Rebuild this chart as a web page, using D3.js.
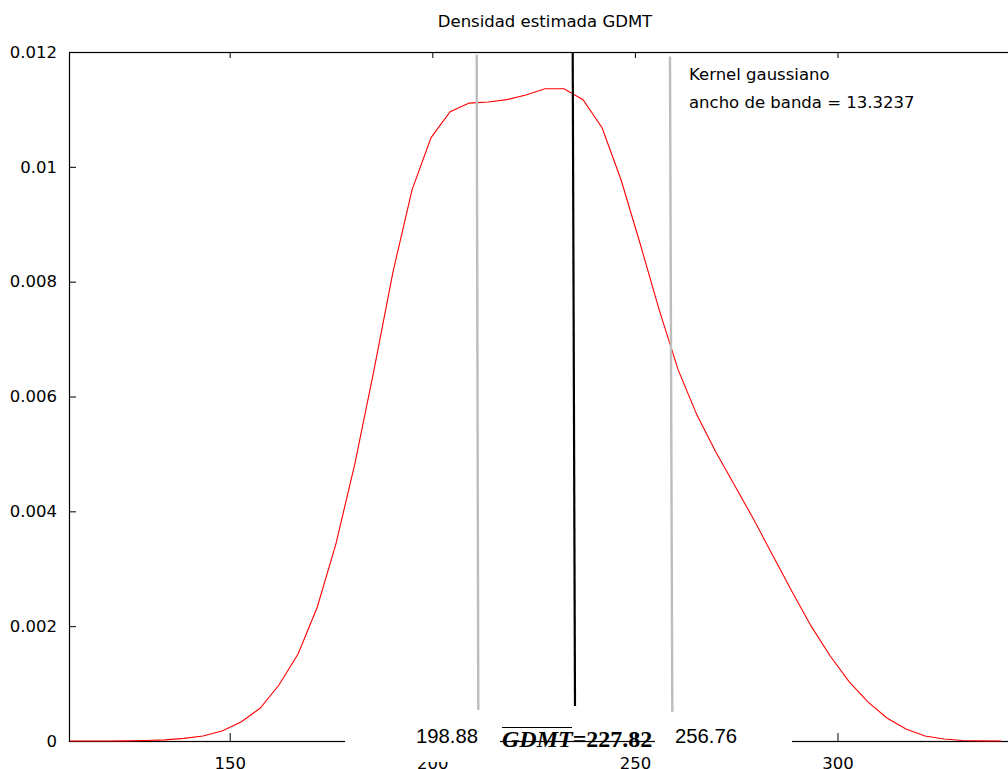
<!DOCTYPE html>
<html>
<head>
<meta charset="utf-8">
<script src="https://cdn.jsdelivr.net/npm/d3@7"></script>
<style>
  body { margin: 0; background: #fff; }
  svg { display: block; }
  text { font-family: "DejaVu Sans", Verdana, sans-serif; fill: #000; }
</style>
</head>
<body>
<script>
// kernel density estimate of GDMT (sampled points)
var gdmt = [110.6, 115.3, 120.0, 124.7, 129.3, 134.0, 138.7, 143.4, 148.1, 152.8,
  157.5, 162.2, 166.9, 171.6, 176.2, 180.9, 185.6, 190.3, 195.0, 199.7,
  204.4, 209.1, 213.8, 218.4, 223.1, 227.8, 232.5, 237.2, 241.9, 246.6,
  251.3, 256.0, 260.7, 265.3, 270.0, 274.7, 279.4, 284.1, 288.8, 293.5,
  298.2, 302.9, 307.5, 312.2, 316.9, 321.6, 326.3, 331.0, 335.7, 340.4];
var density = [0, 0, 0, 0.000003, 0.000009, 0.00002, 0.000045, 0.000087, 0.000174, 0.00033,
  0.00057, 0.00098, 0.00152, 0.00233, 0.00343, 0.00483, 0.00646, 0.00817, 0.0096, 0.01051,
  0.01096, 0.01111, 0.01113, 0.01117, 0.01125, 0.01136, 0.01136, 0.01117, 0.01068, 0.00977,
  0.00866, 0.00751, 0.00646, 0.00568, 0.00503, 0.00444, 0.00385, 0.00322, 0.0026, 0.002,
  0.00148, 0.00103, 0.00068, 0.0004, 0.00021, 0.000087, 0.000035, 0.00001, 0.000003, 0];

var xTicks = [150, 200, 250, 300];
var yTicks = [0, 0.002, 0.004, 0.006, 0.008, 0.01, 0.012];
var yTickLabels = ["0", "0.002", "0.004", "0.006", "0.008", "0.01", "0.012"];

// overlay lines (mean and +/- one sd), drawn by hand on the original picture
var markerNames = ["low", "mean", "high"];
var markerX1 = [210.96, 234.65, 258.66];
var markerX2 = [211.35, 235.22, 259.23];
var markerY1 = [0.01195, 0.012, 0.01192];
var markerY2 = [0.00054, 0.00061, 0.00051];

var title = "Densidad estimada GDMT";
var keyLines = ["Kernel gaussiano", "ancho de banda = 13.3237"];
var lowLabel = "198.88", highLabel = "256.76", meanName = "GDMT", meanValue = "=227.82";

var width = 1008, height = 769;
var margin = { left: 69, top: 52, right: 1021, bottom: 741 };

var svg = d3.select("body").append("svg")
  .attr("width", width)
  .attr("height", height);

var x = d3.scaleLinear().domain([110.34, 345.29]).range([margin.left, margin.right]);
var y = d3.scaleLinear().domain([0, 0.012]).range([margin.bottom, margin.top]);

// title
svg.append("text")
  .attr("x", (margin.left + margin.right) / 2)
  .attr("y", 27)
  .attr("text-anchor", "middle")
  .style("font-size", "16.5px")
  .text(title);

// axes with inward ticks
svg.append("g")
  .attr("transform", "translate(0," + margin.bottom + ")")
  .call(d3.axisBottom(x).tickValues(xTicks).tickSizeInner(-8).tickSizeOuter(0).tickPadding(16))
  .call(function (g) { g.select(".domain").remove(); })
  .call(function (g) { g.selectAll("text").style("font-size", "16.5px").attr("font-family", null); });

svg.append("g")
  .attr("transform", "translate(0," + margin.top + ")")
  .call(d3.axisTop(x).tickValues(xTicks).tickSizeInner(-6).tickSizeOuter(0).tickFormat(""))
  .call(function (g) { g.select(".domain").remove(); });

svg.append("g")
  .attr("transform", "translate(" + margin.left + ",0)")
  .call(d3.axisLeft(y).tickValues(yTicks).tickSizeInner(-7).tickSizeOuter(0).tickPadding(12)
    .tickFormat(function (d, i) { return yTickLabels[i]; }))
  .call(function (g) { g.select(".domain").remove(); })
  .call(function (g) { g.selectAll("text").style("font-size", "16.5px").attr("font-family", null); });

// border
svg.append("rect")
  .attr("x", margin.left + 0.5)
  .attr("y", margin.top + 0.5)
  .attr("width", margin.right - margin.left)
  .attr("height", margin.bottom - margin.top)
  .attr("fill", "none")
  .attr("stroke", "#000")
  .attr("stroke-width", 1.2);

// density curve
var line = d3.line()
  .x(function (d, i) { return x(gdmt[i]); })
  .y(function (d) { return y(d); });

svg.append("path")
  .datum(density)
  .attr("d", line)
  .attr("fill", "none")
  .attr("stroke", "#ff0000")
  .attr("stroke-width", 1.1);

// key
svg.selectAll(".key")
  .data(keyLines)
  .enter()
  .append("text")
  .attr("class", "key")
  .attr("x", 689)
  .attr("y", function (d, i) { return 80 + i * 28; })
  .style("font-size", "16.5px")
  .text(function (d) { return d; });

// marker lines
svg.selectAll(".marker")
  .data(markerNames)
  .enter()
  .append("line")
  .attr("class", "marker")
  .attr("x1", function (d, i) { return x(markerX1[i]); })
  .attr("x2", function (d, i) { return x(markerX2[i]); })
  .attr("y1", function (d, i) { return y(markerY1[i]); })
  .attr("y2", function (d, i) { return y(markerY2[i]); })
  .attr("stroke", function (d) { return d === "mean" ? "#000" : "#bdbdbd"; })
  .attr("stroke-width", function (d) { return d === "mean" ? 2.2 : 2.4; });

// white label boxes pasted over the axis
svg.append("rect").attr("x", 345).attr("y", 714).attr("width", 155).attr("height", 48).attr("fill", "#fff");
svg.append("rect").attr("x", 655).attr("y", 714).attr("width", 137).attr("height", 48).attr("fill", "#fff");

svg.append("text")
  .attr("x", 416)
  .attr("y", 742.5)
  .style("font-family", "'Liberation Sans', Arial, sans-serif")
  .style("font-size", "20.3px")
  .text(lowLabel);

svg.append("text")
  .attr("x", 675)
  .attr("y", 742.5)
  .style("font-family", "'Liberation Sans', Arial, sans-serif")
  .style("font-size", "20.3px")
  .text(highLabel);

var meanText = svg.append("text")
  .attr("x", 502)
  .attr("y", 746.5)
  .style("font-family", "'Liberation Serif', 'Times New Roman', serif")
  .style("font-weight", "bold")
  .style("font-size", "24px");
meanText.append("tspan").style("font-style", "italic").text(meanName);
meanText.append("tspan").text(meanValue);

svg.append("line")
  .attr("x1", 502).attr("x2", 572)
  .attr("y1", 727.5).attr("y2", 727.5)
  .attr("stroke", "#000")
  .attr("stroke-width", 1);
</script>
</body>
</html>
